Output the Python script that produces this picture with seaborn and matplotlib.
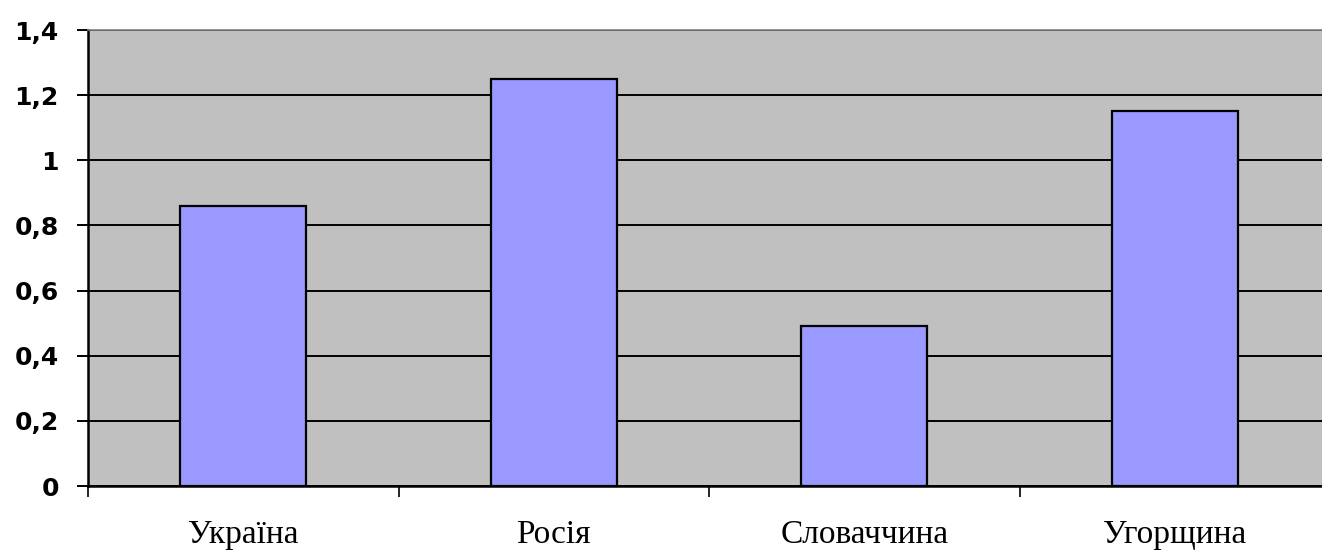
import matplotlib
matplotlib.use("Agg")
import matplotlib.pyplot as plt
import seaborn as sns
import pandas as pd
import numpy as np

# Data
countries = ["Україна", "Росія", "Словаччина", "Угорщина"]
values = [0.86, 1.25, 0.49, 1.15]
y_ticks = [0, 0.2, 0.4, 0.6, 0.8, 1.0, 1.2, 1.4]
y_tick_labels = ["0", "0,2", "0,4", "0,6", "0,8", "1", "1,2", "1,4"]

df = pd.DataFrame({"country": countries, "value": values})

sns.set_style("white")

fig = plt.figure(figsize=(13.22, 5.52), dpi=100)
ax = fig.add_axes([88 / 1322, 66 / 552, 1242 / 1322, 456 / 552])
ax.set_facecolor("#C0C0C0")

sns.barplot(data=df, x="country", y="value", color="#9999FF", width=0.406,
            edgecolor="black", linewidth=1.6, saturation=1, ax=ax, zorder=3)

ax.set_xlim(-0.5, 3.5)
ax.set_ylim(0, 1.4)

# horizontal gridlines
ax.set_yticks(y_ticks)
ax.set_yticklabels(y_tick_labels, fontsize=18, fontweight="bold",
                   family=["DejaVu Sans"], color="black")
ax.yaxis.grid(True, color="black", linewidth=1.4, zorder=1)
ax.set_axisbelow(True)
ax.tick_params(axis="y", which="major", length=8, width=1.4, color="black",
               pad=13, left=True)

# category boundaries get tick marks, centers get labels
ax.set_xticks(np.arange(-0.5, 3.6, 1.0))
ax.set_xticklabels([])
ax.set_xticks(np.arange(len(countries)), minor=True)
ax.set_xticklabels(countries, minor=True, fontsize=24, color="black",
                   family=["Liberation Serif", "DejaVu Serif"])
ax.tick_params(axis="x", which="major", length=8, width=1.2, color="black",
               bottom=True)
ax.tick_params(axis="x", which="minor", length=0, pad=24)

ax.set_xlabel("")
ax.set_ylabel("")

for side in ["left", "bottom"]:
    ax.spines[side].set_color("black")
    ax.spines[side].set_linewidth(1.8)
ax.spines["top"].set_color("#808080")
ax.spines["top"].set_linewidth(1.2)
ax.spines["right"].set_color("#808080")

fig.savefig("out.png", dpi=100, facecolor="white")
